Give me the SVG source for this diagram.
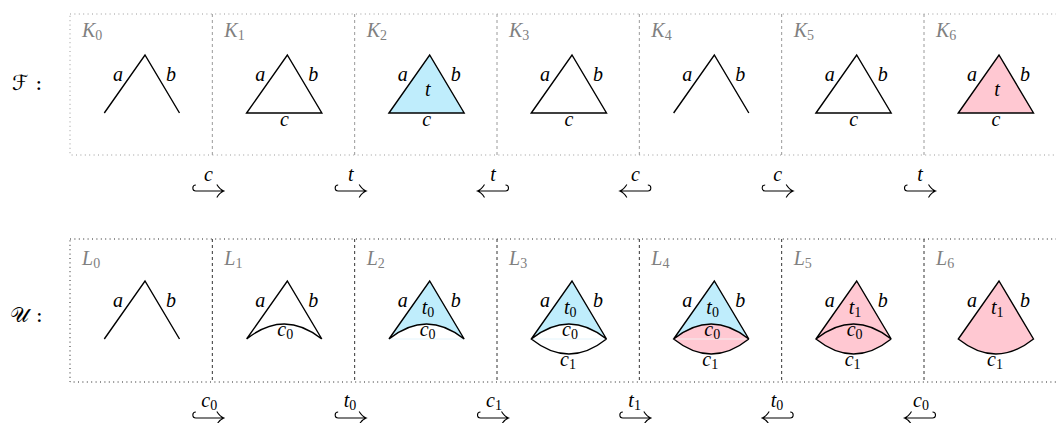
<svg xmlns="http://www.w3.org/2000/svg" width="1056" height="423" viewBox="0 0 1056 423">
<style>
text{font-family:"Liberation Serif","DejaVu Serif",serif;font-style:italic;font-size:20px;fill:#000}
.sub{font-style:normal;font-size:14px}
.lbl{fill:#808080}
.lbl tspan{fill:#808080}
.mid{text-anchor:middle}
.e{fill:none;stroke:#000;stroke-width:1.4;stroke-linejoin:miter}
.blue{fill:#bfedfc}
.pink{fill:#ffc8d2}
.frameT{fill:none;stroke:#9a9a9a;stroke-width:1;stroke-dasharray:1 3.4}
.frameB{fill:none;stroke:#222;stroke-width:1;stroke-dasharray:1 3.4}
.divT{stroke:#9a9a9a;stroke-width:1;stroke-dasharray:3 3}
.divB{stroke:#333;stroke-width:1;stroke-dasharray:3 3}
.arr{fill:none;stroke:#000;stroke-width:1.1}
.cal{font-family:"DejaVu Serif","DejaVu Sans","Noto Sans",serif;font-style:normal;font-size:21px}
</style>
<defs>
<g id="hr"><path class="arr" d="M -12.5,-6 A 3 3 0 0 0 -12.5,0 L 15.5,0 M 8.5,-6.5 Q 11.5,-1.5 15.5,0 Q 11.5,1.5 8.5,6.5"/></g>
<g id="hl"><use href="#hr" transform="scale(-1,1)"/></g>
</defs>

<!-- row labels -->
<text class="cal" x="12" y="90">ℱ :</text>
<text class="cal" x="10" y="322">𝒰 :</text>

<!-- frames -->
<g id="frames">
<rect class="frameT" x="70" y="14" width="1000" height="141"/>
<line class="divT" x1="212.33" y1="14" x2="212.33" y2="155"/>
<line class="divT" x1="354.67" y1="14" x2="354.67" y2="155"/>
<line class="divT" x1="497" y1="14" x2="497" y2="155"/>
<line class="divT" x1="639.33" y1="14" x2="639.33" y2="155"/>
<line class="divT" x1="781.67" y1="14" x2="781.67" y2="155"/>
<line class="divT" x1="924" y1="14" x2="924" y2="155"/>
<rect class="frameB" x="70" y="239" width="1000" height="143"/>
<line class="divB" x1="212.33" y1="239" x2="212.33" y2="382"/>
<line class="divB" x1="354.67" y1="239" x2="354.67" y2="382"/>
<line class="divB" x1="497" y1="239" x2="497" y2="382"/>
<line class="divB" x1="639.33" y1="239" x2="639.33" y2="382"/>
<line class="divB" x1="781.67" y1="239" x2="781.67" y2="382"/>
<line class="divB" x1="924" y1="239" x2="924" y2="382"/>
</g>

<!-- top row -->
<g id="K0" transform="translate(70,0)">
<text class="lbl" x="12" y="37">K<tspan class="sub" dy="3">0</tspan></text>
<path class="e" d="M34.3,113 L75,55 L109.5,113"/>
<text x="43" y="81">a</text><text x="96" y="81">b</text>
</g>
<g id="K1" transform="translate(212.33,0)">
<text class="lbl" x="12" y="37">K<tspan class="sub" dy="3">1</tspan></text>
<path class="e" d="M34.3,113 L75,55 L109.5,113 Z"/>
<text x="43" y="81">a</text><text x="96" y="81">b</text><text class="mid" x="72" y="126">c</text>
</g>
<g id="K2" transform="translate(354.67,0)">
<text class="lbl" x="12" y="37">K<tspan class="sub" dy="3">2</tspan></text>
<path class="e blue" d="M34.3,113 L75,55 L109.5,113 Z"/>
<text x="43" y="81">a</text><text x="96" y="81">b</text><text class="mid" x="72" y="126">c</text><text class="mid" x="73" y="96">t</text>
</g>
<g id="K3" transform="translate(497,0)">
<text class="lbl" x="12" y="37">K<tspan class="sub" dy="3">3</tspan></text>
<path class="e" d="M34.3,113 L75,55 L109.5,113 Z"/>
<text x="43" y="81">a</text><text x="96" y="81">b</text><text class="mid" x="72" y="126">c</text>
</g>
<g id="K4" transform="translate(639.33,0)">
<text class="lbl" x="12" y="37">K<tspan class="sub" dy="3">4</tspan></text>
<path class="e" d="M34.3,113 L75,55 L109.5,113"/>
<text x="43" y="81">a</text><text x="96" y="81">b</text>
</g>
<g id="K5" transform="translate(781.67,0)">
<text class="lbl" x="12" y="37">K<tspan class="sub" dy="3">5</tspan></text>
<path class="e" d="M34.3,113 L75,55 L109.5,113 Z"/>
<text x="43" y="81">a</text><text x="96" y="81">b</text><text class="mid" x="72" y="126">c</text>
</g>
<g id="K6" transform="translate(924,0)">
<text class="lbl" x="12" y="37">K<tspan class="sub" dy="3">6</tspan></text>
<path class="e pink" d="M34.3,113 L75,55 L109.5,113 Z"/>
<text x="43" y="81">a</text><text x="96" y="81">b</text><text class="mid" x="72" y="126">c</text><text class="mid" x="73" y="96">t</text>
</g>

<!-- bottom row -->
<g id="L0" transform="translate(70,0)">
<text class="lbl" x="12" y="265">L<tspan class="sub" dy="3">0</tspan></text>
<path class="e" d="M34.3,339 L75,281 L109.5,339"/>
<text x="43" y="307">a</text><text x="96" y="307">b</text>
</g>
<g id="L1" transform="translate(212.33,0)">
<text class="lbl" x="12" y="265">L<tspan class="sub" dy="3">1</tspan></text>
<path class="e" d="M34.3,339 L75,281 L109.5,339 M34.3,339 Q71.9,309 109.5,339"/>
<text x="43" y="307">a</text><text x="96" y="307">b</text>
<text x="65" y="336">c<tspan class="sub" dy="3">0</tspan></text>
</g>
<g id="L2" transform="translate(354.67,0)">
<text class="lbl" x="12" y="265">L<tspan class="sub" dy="3">2</tspan></text>
<path class="blue" d="M34.3,339 L75,281 L109.5,339 Q71.9,309 34.3,339 Z"/>
<line x1="34.3" y1="339" x2="109.5" y2="339" stroke="#e3f4fb" stroke-width="1"/>
<path class="e" d="M34.3,339 L75,281 L109.5,339 Q71.9,309 34.3,339"/>
<text x="43" y="307">a</text><text x="96" y="307">b</text>
<text x="67" y="314">t<tspan class="sub" dy="3">0</tspan></text>
<text x="65" y="336">c<tspan class="sub" dy="3">0</tspan></text>
</g>
<g id="L3" transform="translate(497,0)">
<text class="lbl" x="12" y="265">L<tspan class="sub" dy="3">3</tspan></text>
<path class="blue" d="M34.3,339 L75,281 L109.5,339 Q71.9,309 34.3,339 Z"/>
<line x1="34.3" y1="339" x2="109.5" y2="339" stroke="#e3f4fb" stroke-width="1"/>
<path class="e" d="M34.3,339 L75,281 L109.5,339 Q71.9,309 34.3,339 Q71.9,369 109.5,339"/>
<text x="43" y="307">a</text><text x="96" y="307">b</text>
<text x="67" y="314">t<tspan class="sub" dy="3">0</tspan></text>
<text x="65" y="336">c<tspan class="sub" dy="3">0</tspan></text>
<text x="63" y="366">c<tspan class="sub" dy="3">1</tspan></text>
</g>
<g id="L4" transform="translate(639.33,0)">
<text class="lbl" x="12" y="265">L<tspan class="sub" dy="3">4</tspan></text>
<path class="blue" d="M34.3,339 L75,281 L109.5,339 Q71.9,309 34.3,339 Z"/>
<path class="pink" d="M34.3,339 Q71.9,309 109.5,339 Q71.9,369 34.3,339 Z"/>
<line x1="34.3" y1="339" x2="109.5" y2="339" stroke="#f4eef0" stroke-width="1"/>
<path class="e" d="M34.3,339 L75,281 L109.5,339 Q71.9,309 34.3,339 Q71.9,369 109.5,339"/>
<text x="43" y="307">a</text><text x="96" y="307">b</text>
<text x="67" y="314">t<tspan class="sub" dy="3">0</tspan></text>
<text x="65" y="336">c<tspan class="sub" dy="3">0</tspan></text>
<text x="63" y="366">c<tspan class="sub" dy="3">1</tspan></text>
</g>
<g id="L5" transform="translate(781.67,0)">
<text class="lbl" x="12" y="265">L<tspan class="sub" dy="3">5</tspan></text>
<path class="pink" d="M34.3,339 L75,281 L109.5,339 Q71.9,369 34.3,339 Z"/>
<path class="e" d="M34.3,339 L75,281 L109.5,339 Q71.9,309 34.3,339 Q71.9,369 109.5,339"/>
<text x="43" y="307">a</text><text x="96" y="307">b</text>
<text x="67" y="314">t<tspan class="sub" dy="3">1</tspan></text>
<text x="65" y="336">c<tspan class="sub" dy="3">0</tspan></text>
<text x="63" y="366">c<tspan class="sub" dy="3">1</tspan></text>
</g>
<g id="L6" transform="translate(924,0)">
<text class="lbl" x="12" y="265">L<tspan class="sub" dy="3">6</tspan></text>
<path class="e pink" d="M34.3,339 L75,281 L109.5,339 Q71.9,369 34.3,339 Z"/>
<text x="43" y="307">a</text><text x="96" y="307">b</text>
<text x="67" y="314">t<tspan class="sub" dy="3">1</tspan></text>
<text x="63" y="366">c<tspan class="sub" dy="3">1</tspan></text>
</g>

<!-- connectors -->
<g id="connectors">
<g transform="translate(208.33,191)"><use href="#hr"/><text class="mid" x="0" y="-10">c</text></g>
<g transform="translate(350.67,191)"><use href="#hr"/><text class="mid" x="0" y="-10">t</text></g>
<g transform="translate(493,191)"><use href="#hl"/><text class="mid" x="0" y="-10">t</text></g>
<g transform="translate(635.33,191)"><use href="#hl"/><text class="mid" x="0" y="-10">c</text></g>
<g transform="translate(777.67,191)"><use href="#hr"/><text class="mid" x="0" y="-10">c</text></g>
<g transform="translate(920,191)"><use href="#hr"/><text class="mid" x="0" y="-10">t</text></g>

<g transform="translate(208.33,418)"><use href="#hr"/><text x="-7" y="-11">c<tspan class="sub" dy="3">0</tspan></text></g>
<g transform="translate(350.67,418)"><use href="#hr"/><text x="-7" y="-11">t<tspan class="sub" dy="3">0</tspan></text></g>
<g transform="translate(493,418)"><use href="#hr"/><text x="-7" y="-11">c<tspan class="sub" dy="3">1</tspan></text></g>
<g transform="translate(635.33,418)"><use href="#hr"/><text x="-7" y="-11">t<tspan class="sub" dy="3">1</tspan></text></g>
<g transform="translate(777.67,418)"><use href="#hl"/><text x="-7" y="-11">t<tspan class="sub" dy="3">0</tspan></text></g>
<g transform="translate(920,418)"><use href="#hl"/><text x="-7" y="-11">c<tspan class="sub" dy="3">0</tspan></text></g>
</g>
</svg>
